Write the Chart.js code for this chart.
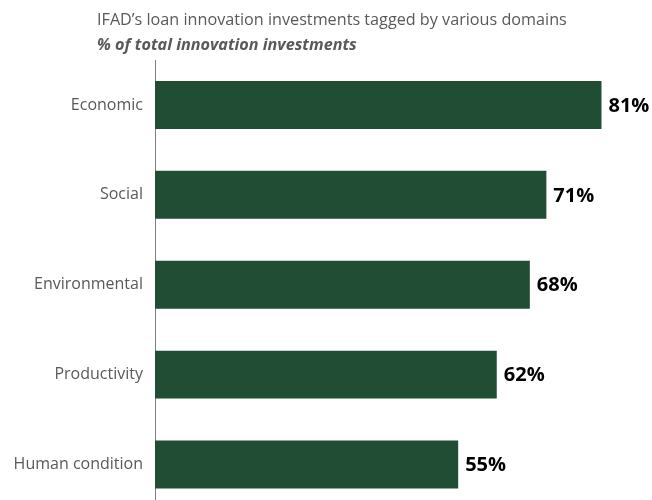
<!DOCTYPE html>
<html>
<head>
<meta charset="utf-8">
<script src="https://cdn.jsdelivr.net/npm/chart.js@4/dist/chart.umd.min.js"></script>
<style>
  html, body { margin: 0; padding: 0; background: #fff; overflow: hidden; }
  #wrap { position: relative; width: 652px; height: 500px; overflow: hidden; }
  .t { position: absolute; left: 97px; font-family: "Open Sans", sans-serif; color: #595959; white-space: nowrap; }
  #title { top: 8px; font-size: 16.2px; }
  #subtitle { top: 33px; font-size: 16.2px; font-weight: bold; font-style: italic; }
  canvas { position: absolute; left: 0; top: 0; }
</style>
</head>
<body>
<div id="wrap">
  <canvas id="chart" width="652" height="531"></canvas>
  <div class="t" id="title">IFAD’s loan innovation investments tagged by various domains</div>
  <div class="t" id="subtitle">% of total innovation investments</div>
</div>
<script>
// data
const categories = ['Economic', 'Social', 'Environmental', 'Productivity', 'Human condition'];
const shares = [81, 71, 68, 62, 55];

// draw "81%" etc just past the end of each bar
const barLabels = {
  id: 'barLabels',
  afterDatasetsDraw: function(chart) {
    const ctx = chart.ctx;
    const meta = chart.getDatasetMeta(0);
    ctx.save();
    ctx.font = 'bold 20px "Open Sans", sans-serif';
    ctx.fillStyle = '#000';
    ctx.textAlign = 'left';
    ctx.textBaseline = 'middle';
    meta.data.forEach((bar, i) => {
      ctx.fillText(shares[i] + '%', bar.x + 7, bar.y + 1);
    });
    ctx.restore();
  }
};

new Chart(document.getElementById('chart'), {
  type: 'bar',
  data: {
    labels: categories,
    datasets: [{
      data: shares,
      backgroundColor: '#214d34',
      borderWidth: 0,
      categoryPercentage: 1,
      barPercentage: 0.533
    }]
  },
  options: {
    indexAxis: 'y',
    responsive: false,
    animation: false,
    layout: { padding: { top: 60, right: 2, bottom: 0, left: 0 } },
    scales: {
      x: { display: false, min: 0, max: 89.8 },
      y: {
        grid: { display: false, drawTicks: false },
        border: { display: true, color: '#7f7f7f', width: 1 },
        ticks: {
          color: '#595959',
          padding: 12,
          font: { family: '"Open Sans", sans-serif', size: 16 }
        },
        afterFit: function(axis) { axis.width = 155; }
      }
    },
    plugins: {
      legend: { display: false },
      tooltip: { enabled: false }
    }
  },
  plugins: [barLabels]
});
</script>
</body>
</html>
